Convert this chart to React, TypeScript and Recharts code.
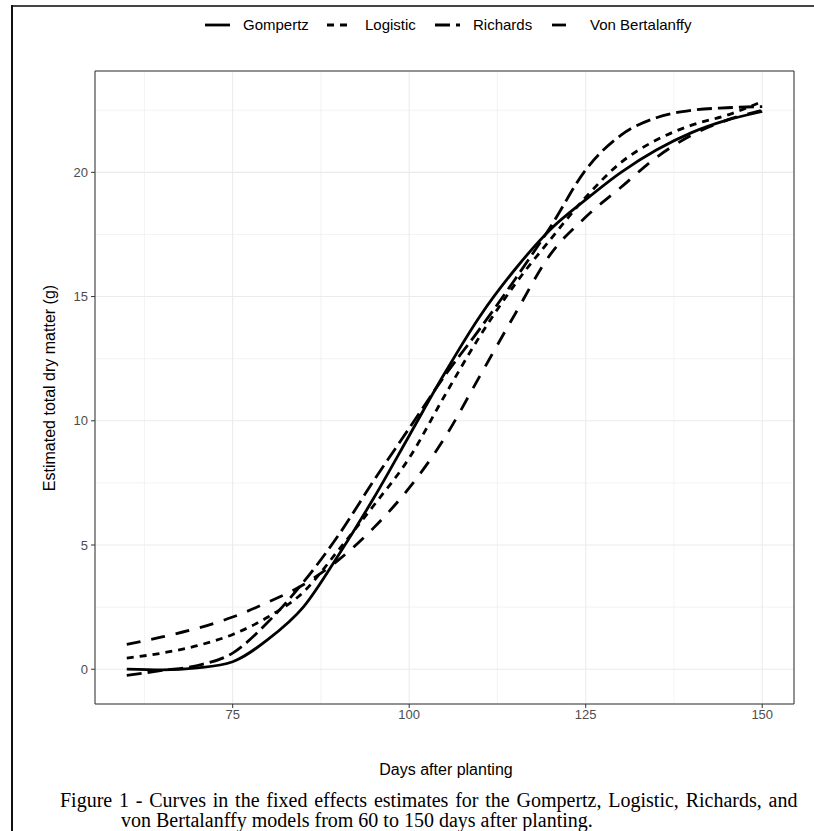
import React from "react";
import {
  LineChart,
  Line,
  XAxis,
  YAxis,
  CartesianGrid,
  ReferenceArea,
} from "recharts";

const days = [60, 65, 70, 75, 80, 85, 90, 95, 100, 105, 110, 115, 120, 125, 130, 135, 140, 145, 150];
const gompertz = [0.0, -0.03, 0.05, 0.3, 1.2, 2.5, 4.6, 6.9, 9.4, 11.9, 14.2, 16.1, 17.7, 18.9, 20.0, 20.9, 21.6, 22.1, 22.45];
const logistic = [0.45, 0.65, 0.95, 1.4, 2.1, 3.1, 4.8, 6.6, 8.5, 11.0, 13.4, 15.5, 17.3, 19.0, 20.4, 21.3, 21.9, 22.3, 22.85];
const richards = [-0.25, -0.05, 0.15, 0.65, 1.9, 3.5, 5.4, 7.6, 9.7, 11.8, 13.7, 15.7, 17.8, 20.1, 21.5, 22.2, 22.5, 22.6, 22.65];
const vonBertalanffy = [1.0, 1.3, 1.65, 2.1, 2.7, 3.4, 4.4, 5.7, 7.3, 9.3, 11.8, 14.3, 16.7, 18.2, 19.4, 20.6, 21.5, 22.1, 22.5];

const xTicks = [75, 100, 125, 150];
const xMinorTicks = [62.5, 87.5, 112.5, 137.5];
const yTicks = [0, 5, 10, 15, 20];
const yMinorTicks = [2.5, 7.5, 12.5, 17.5, 22.5];
const xDomain: [number, number] = [55.5, 154.5];
const yDomain: [number, number] = [-1.4, 24.08];

const seriesNames = ["Gompertz", "Logistic", "Richards", "Von Bertalanffy"];
const seriesKeys = ["gompertz", "logistic", "richards", "vonBertalanffy"];
const seriesDash = ["", "7 6", "15 6", "14 11"];

const rows = days.map((d, i) => ({
  day: d,
  gompertz: gompertz[i],
  logistic: logistic[i],
  richards: richards[i],
  vonBertalanffy: vonBertalanffy[i],
}));

const legendKeyX = [205, 327, 435, 552];
const legendTextX = [243, 365, 473, 590];

const sans = '"Liberation Sans", Arial, Helvetica, sans-serif';
const serif = '"Liberation Serif", "Times New Roman", Times, serif';

export default function App() {
  return (
    <div
      style={{
        position: "absolute",
        left: 0,
        top: 0,
        width: 814,
        height: 831,
        background: "#ffffff",
        overflow: "hidden",
        fontFamily: sans,
      }}
    >
      {/* outer frame */}
      <div style={{ position: "absolute", left: 11, top: 5, width: 803, height: 2, background: "#444" }} />
      <div style={{ position: "absolute", left: 11, top: 5, width: 2, height: 826, background: "#111" }} />

      {/* legend */}
      <svg style={{ position: "absolute", left: 0, top: 0 }} width={814} height={50}>
        {seriesNames.map((n, i) => (
          <g key={n}>
            <line
              x1={legendKeyX[i]}
              x2={legendKeyX[i] + 25}
              y1={25}
              y2={25}
              stroke="#000"
              strokeWidth={2.8}
              strokeDasharray={seriesDash[i] || undefined}
            />
            <text x={legendTextX[i]} y={30} fontSize={15} fontFamily={sans} fill="#000">
              {n}
            </text>
          </g>
        ))}
      </svg>

      <div style={{ position: "absolute", left: 0, top: 0 }}>
        <LineChart
          width={814}
          height={790}
          data={rows}
          margin={{ top: 71, right: 20, bottom: 56, left: 55 }}
        >
          <XAxis
            xAxisId="minor"
            dataKey="day"
            type="number"
            domain={xDomain}
            ticks={xMinorTicks}
            hide
            allowDataOverflow
          />
          <YAxis yAxisId="minor" type="number" domain={yDomain} ticks={yMinorTicks} hide allowDataOverflow />
          <CartesianGrid xAxisId="minor" yAxisId="minor" stroke="#EBEBEB" strokeWidth={0.6} />
          <CartesianGrid stroke="#EBEBEB" strokeWidth={1.1} />
          <XAxis
            dataKey="day"
            type="number"
            domain={xDomain}
            ticks={xTicks}
            allowDataOverflow
            height={30}
            axisLine={false}
            tickLine={{ stroke: "#333333" }}
            tickSize={4}
            tickMargin={2}
            tick={{ fill: "#4D4D4D", fontSize: 13, fontFamily: sans }}
          />
          <YAxis
            type="number"
            domain={yDomain}
            ticks={yTicks}
            allowDataOverflow
            width={40}
            axisLine={false}
            tickLine={{ stroke: "#333333" }}
            tickSize={4}
            tickMargin={3}
            tick={{ fill: "#4D4D4D", fontSize: 13, fontFamily: sans }}
          />
          {seriesKeys.map((k, i) => (
            <Line
              key={k}
              dataKey={k}
              name={seriesNames[i]}
              type="monotone"
              stroke="#000"
              strokeWidth={2.8}
              strokeDasharray={seriesDash[i] || undefined}
              dot={false}
              activeDot={false}
              isAnimationActive={false}
            />
          ))}
          <ReferenceArea
            x1={xDomain[0]}
            x2={xDomain[1]}
            y1={yDomain[0]}
            y2={yDomain[1]}
            fill="none"
            stroke="#333333"
            strokeWidth={1}
            fillOpacity={0}
          />
        </LineChart>
      </div>

      {/* axis titles */}
      <div
        style={{
          position: "absolute",
          left: 446,
          top: 770,
          transform: "translate(-50%, -50%)",
          fontSize: 16,
          color: "#000",
          whiteSpace: "nowrap",
        }}
      >
        Days after planting
      </div>
      <div
        style={{
          position: "absolute",
          left: 50,
          top: 388,
          transform: "translate(-50%, -50%) rotate(-90deg)",
          fontSize: 16,
          color: "#000",
          whiteSpace: "nowrap",
        }}
      >
        Estimated total dry matter (g)
      </div>

      {/* caption */}
      <div
        style={{
          position: "absolute",
          left: 60,
          top: 790,
          fontFamily: serif,
          fontSize: 20,
          lineHeight: "20px",
          wordSpacing: 1.8,
          color: "#000",
          whiteSpace: "nowrap",
        }}
      >
        Figure 1 - Curves in the fixed effects estimates for the Gompertz, Logistic, Richards, and
      </div>
      <div
        style={{
          position: "absolute",
          left: 121,
          top: 810,
          fontFamily: serif,
          fontSize: 20,
          lineHeight: "20px",
          color: "#000",
          whiteSpace: "nowrap",
        }}
      >
        von Bertalanffy models from 60 to 150 days after planting.
      </div>
    </div>
  );
}
